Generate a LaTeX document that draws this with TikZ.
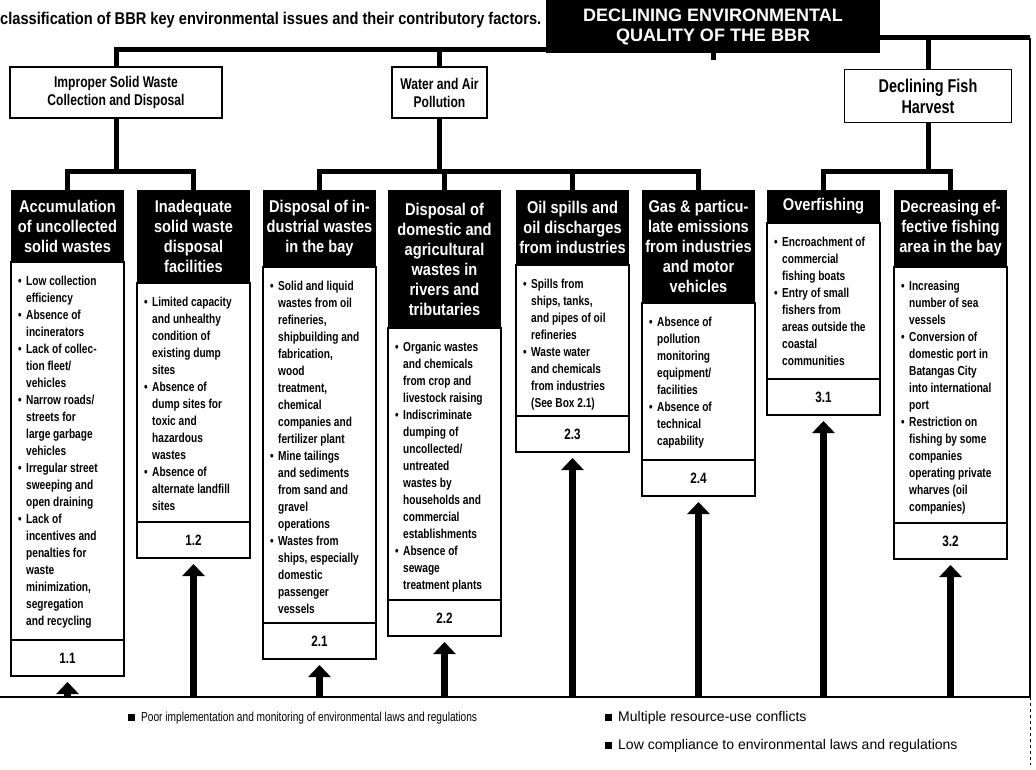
\documentclass[tikz,border=0pt]{standalone}
\usepackage{fontspec}
\setmainfont{Liberation Sans}
\newfontfamily\narrowfont[FakeStretch=0.78]{Liberation Sans}
\newfontfamily\headfont[FakeStretch=0.86]{Liberation Sans}
\usepackage{tikz}
\usetikzlibrary{arrows.meta, positioning}
\newcommand{\bul}{\makebox[8pt][l]{\textbullet}}
\newcommand{\ind}{\hspace*{8pt}}
\newcommand{\legsq}{\rule[0.5pt]{7pt}{7pt}\hspace{6pt}}
% one column: name, left x, header bottom, body bottom, number, header, body
\newcommand{\issue}[7]{%
  \pgfmathsetmacro{\colx}{#2+56.5}
  \pgfmathsetmacro{\hdrh}{#3-190}
  \pgfmathsetmacro{\bodyh}{#4-#3}
  \node[hdrbox, minimum height=\hdrh pt, anchor=north] (#1h) at (\colx,190) {#6};
  \node[bodybox, minimum height=\bodyh pt, anchor=north] (#1b) at (#1h.south) {};
  \node[bodytext] at ([xshift=7pt, yshift=-14pt]#1b.north west) {#7};
  \node[numbox, anchor=north] (#1n) at (#1b.south) {#5};
}

\begin{document}
\begin{tikzpicture}[x=1pt, y=-1pt,
  conn/.style={line width=5pt},
  frame/.style={line width=2.5pt},
  rootbox/.style={fill=black, text=white, minimum width=334pt, minimum height=53pt, align=center, font=\bfseries\fontsize{18}{20}\selectfont, inner sep=0pt, outer sep=0pt},
  topicbox/.style={draw, line width=1.5pt, fill=white, align=center, font=\narrowfont\bfseries\fontsize{15.5}{18}\selectfont, inner sep=0pt, outer sep=0pt},
  hdrbox/.style={fill=black, text=white, minimum width=113pt, align=center, font=\headfont\bfseries\fontsize{17}{20}\selectfont, inner sep=0pt, outer sep=0pt},
  bodybox/.style={draw, line width=1.5pt, minimum width=113pt, inner sep=0pt, outer sep=0pt},
  bodytext/.style={align=left, anchor=north west, inner sep=0pt, font=\narrowfont\bfseries\fontsize{13}{17}\selectfont},
  numbox/.style={draw, line width=1.5pt, minimum width=113pt, minimum height=36pt, font=\narrowfont\bfseries\fontsize{15}{18}\selectfont, inner sep=0pt, outer sep=0pt},
  uparrow/.style={line width=7pt, -{Triangle[width=22pt, length=12pt]}, shorten >=6pt},
  legend/.style={anchor=west, inner sep=0pt, font=\narrowfont\fontsize{13}{15}\selectfont},
  legendwide/.style={anchor=west, inner sep=0pt, font=\fontsize{14}{16}\selectfont}]

\useasboundingbox (0,0) rectangle (1036,770);

\node[anchor=west, inner sep=0pt, font=\headfont\bfseries\fontsize{17}{19}\selectfont] (title) at (0,20)
  {classification of BBR key environmental issues and their contributory factors.};

% level 1 and 2
\node[rootbox] (root) at (713,26.5) {DECLINING ENVIRONMENTAL\\QUALITY OF THE BBR};
\node[topicbox, minimum width=212pt, minimum height=51pt] (imp) at (116,92.5) {Improper Solid Waste\\Collection and Disposal};
\node[topicbox, minimum width=95pt, minimum height=51pt] (water) at (439.5,92.5) {Water and Air\\Pollution};
\node[topicbox, minimum width=167pt, minimum height=53pt, font=\narrowfont\bfseries\fontsize{18.5}{21}\selectfont] (fish) at (928,96) {Declining Fish\\Harvest};

\coordinate (corner) at (1030,38);
\coordinate (base) at (0,697);
\coordinate (lvl) at (0,172);

\draw[conn] (imp.north) |- ([yshift=3pt]root.south west);
\draw[conn] (water.north) -- (water.north |- imp.north) -- (water.north |- 0,50);
\draw[conn] (root.south) -- ++(0,7);
\draw[conn] (root.east |- corner) -- (corner);
\draw[conn] (fish.north) -- (fish.north |- corner);
\draw[frame] (corner) -- (corner |- base);
\draw[frame] (base) -- (base -| corner);
\draw[thin, dashed] (base -| corner) -- ++(0,68);

% level 3
\issue{c11}{11}{262}{640}{1.1}{Accumulation\\of uncollected\\solid wastes}
  {\bul Low collection\\\ind efficiency\\\bul Absence of\\\ind incinerators\\\bul Lack of collec-\\\ind tion fleet/\\\ind vehicles\\\bul Narrow roads/\\\ind streets for\\\ind large garbage\\\ind vehicles\\\bul Irregular street\\\ind sweeping and\\\ind open draining\\\bul Lack of\\\ind incentives and\\\ind penalties for\\\ind waste\\\ind minimization,\\\ind segregation\\\ind and recycling}
\issue{c12}{137}{283}{522}{1.2}{Inadequate\\solid waste\\disposal\\facilities}
  {\bul Limited capacity\\\ind and unhealthy\\\ind condition of\\\ind existing dump\\\ind sites\\\bul Absence of\\\ind dump sites for\\\ind toxic and\\\ind hazardous\\\ind wastes\\\bul Absence of\\\ind alternate landfill\\\ind sites}
\issue{c21}{263}{267}{623}{2.1}{Disposal of in-\\dustrial wastes\\in the bay}
  {\bul Solid and liquid\\\ind wastes from oil\\\ind refineries,\\\ind shipbuilding and\\\ind fabrication,\\\ind wood\\\ind treatment,\\\ind chemical\\\ind companies and\\\ind fertilizer plant\\\bul Mine tailings\\\ind and sediments\\\ind from sand and\\\ind gravel\\\ind operations\\\bul Wastes from\\\ind ships, especially\\\ind domestic\\\ind passenger\\\ind vessels}
\issue{c22}{388}{328}{600}{2.2}{Disposal of\\domestic and\\agricultural\\wastes in\\rivers and\\tributaries}
  {\bul Organic wastes\\\ind and chemicals\\\ind from crop and\\\ind livestock raising\\\bul Indiscriminate\\\ind dumping of\\\ind uncollected/\\\ind untreated\\\ind wastes by\\\ind households and\\\ind commercial\\\ind establishments\\\bul Absence of\\\ind sewage\\\ind treatment plants}
\issue{c23}{516}{265}{416}{2.3}{Oil spills and\\oil discharges\\from industries}
  {\bul Spills from\\\ind ships, tanks,\\\ind and pipes of oil\\\ind refineries\\\bul Waste water\\\ind and chemicals\\\ind from industries\\\ind (See Box 2.1)}
\issue{c24}{642}{303}{460}{2.4}{Gas \& particu-\\late emissions\\from industries\\and motor\\vehicles}
  {\bul Absence of\\\ind pollution\\\ind monitoring\\\ind equipment/\\\ind facilities\\\bul Absence of\\\ind technical\\\ind capability}
\issue{c31}{767}{223}{379}{3.1}{Overfishing}
  {\bul Encroachment of\\\ind commercial\\\ind fishing boats\\\bul Entry of small\\\ind fishers from\\\ind areas outside the\\\ind coastal\\\ind communities}
\issue{c32}{894}{267}{523}{3.2}{Decreasing ef-\\fective fishing\\area in the bay}
  {\bul Increasing\\\ind number of sea\\\ind vessels\\\bul Conversion of\\\ind domestic port in\\\ind Batangas City\\\ind into international\\\ind port\\\bul Restriction on\\\ind fishing by some\\\ind companies\\\ind operating private\\\ind wharves (oil\\\ind companies)}

\draw[conn] (imp.south) -- (imp.south |- lvl);
\draw[conn] (c11h.north) |- (c12h.north |- lvl) -- (c12h.north);
\draw[conn] (water.south) -- (water.south |- lvl);
\draw[conn] (c21h.north) |- (c24h.north |- lvl) -- (c24h.north);
\draw[conn] (c22h.north) -- (c22h.north |- lvl);
\draw[conn] (c23h.north) -- (c23h.north |- lvl);
\draw[conn] (fish.south) -- (fish.south |- lvl);
\draw[conn] (c31h.north) |- (c32h.north |- lvl) -- (c32h.north);

% arrows from the base line
\foreach \c in {c11,c12,c21,c22,c23,c24,c31,c32}
  \draw[uparrow] (\c n.south |- base) -- (\c n.south);

\node[legend] (leg1) at (128,718) {\legsq Poor implementation and monitoring of environmental laws and regulations};
\node[legendwide] (leg2) at (605,718) {\legsq Multiple resource-use conflicts};
\node[legendwide] (leg3) at (605,746) {\legsq Low compliance to environmental laws and regulations};

\end{tikzpicture}
\end{document}
